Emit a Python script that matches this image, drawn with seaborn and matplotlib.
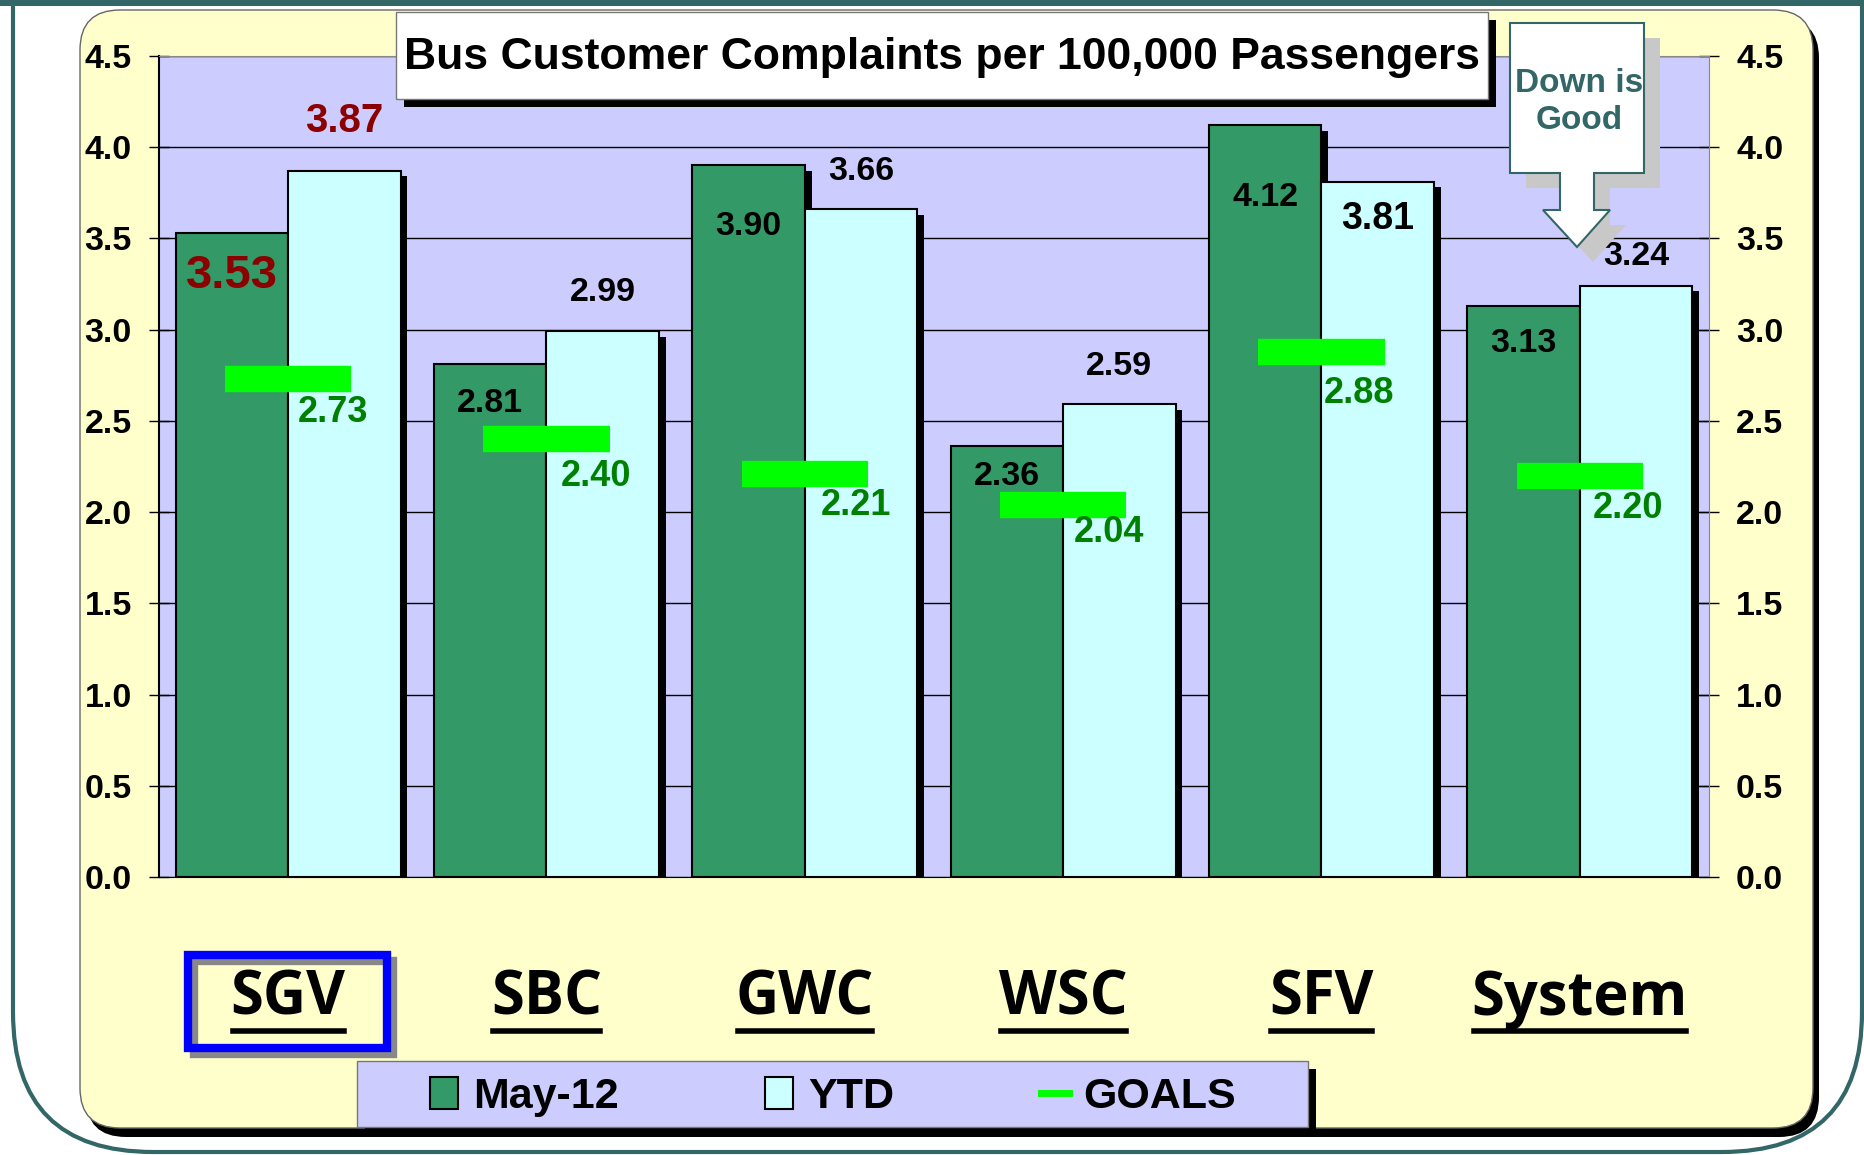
import pandas as pd
import numpy as np
import matplotlib
matplotlib.use("Agg")
import matplotlib.pyplot as plt
import matplotlib.patheffects as pe
import matplotlib.transforms as mtransforms
from matplotlib.patches import FancyBboxPatch, Rectangle, Polygon, Patch
from matplotlib.lines import Line2D
import seaborn as sb

# data
regions = ["SGV", "SBC", "GWC", "WSC", "SFV", "System"]
series = ["May-12", "YTD"]
may_12 = [3.53, 2.81, 3.90, 2.36, 4.12, 3.13]
ytd = [3.87, 2.99, 3.66, 2.59, 3.81, 3.24]
goals = [2.73, 2.40, 2.21, 2.04, 2.88, 2.20]
yticks = [0.0, 0.5, 1.0, 1.5, 2.0, 2.5, 3.0, 3.5, 4.0, 4.5]
title = "Bus Customer Complaints per 100,000 Passengers"

# label styles: (offset pt, size, colour)
may_style = [(-31, 34, "#8B0000"), (-28, 24.5, "black"), (-44, 24.5, "black"),
             (-22, 24.5, "black"), (-52, 24.5, "black"), (-27, 24.5, "black")]
ytd_style = [(36, 29, "#8B0000"), (28, 24.5, "black"), (27, 24.5, "black"),
             (27, 24.5, "black"), (-27, 27, "black"), (21, 24.5, "black")]
goal_offsets = [(32, -24), (36, -27), (37, -23), (33, -20), (27, -30), (35, -24)]

GREEN = "#339966"
CYAN = "#CCFFFF"
LIME = "#00FF00"
LAV = "#CCCCFF"
PANEL = "#FFFFCC"
TEAL = "#336666"

W, H = 1865, 1155
plt.rcParams["font.family"] = ["Liberation Sans", "DejaVu Sans"]

fig = plt.figure(figsize=(W / 100, H / 100), dpi=100)
fig.patch.set_facecolor("white")
# pixel coords measured from the top-left corner
px = mtransforms.Affine2D().scale(1 / W, -1 / H).translate(0, 1) + fig.transFigure

# slide frame
fig.add_artist(FancyBboxPatch((13, -300), 1849, 1452, boxstyle="round,pad=0,rounding_size=140",
                              fc="white", ec=TEAL, lw=3, transform=px, zorder=-3))
fig.add_artist(Rectangle((0, 0), W, 6, fc=TEAL, ec="none", transform=px, zorder=-3))

# yellow panel with black shadow
fig.add_artist(FancyBboxPatch((86, 18), 1733, 1119, boxstyle="round,pad=0,rounding_size=40",
                              fc="black", ec="none", transform=px, zorder=-2))
fig.add_artist(FancyBboxPatch((80, 10), 1733, 1118, boxstyle="round,pad=0,rounding_size=40",
                              fc=PANEL, ec="#666666", lw=1, transform=px, zorder=-1.5))

ax = fig.add_axes([159 / W, 1 - 877 / H, 1550 / W, 821 / H])

df = pd.DataFrame({
    "region": regions * 2,
    "period": [series[0]] * len(regions) + [series[1]] * len(regions),
    "value": may_12 + ytd,
})

sb.barplot(data=df, x="region", y="value", hue="period", palette=[GREEN, CYAN],
           width=0.87, saturation=1, edgecolor="black", linewidth=1.5,
           legend=False, ax=ax, zorder=3)

for cont in ax.containers:
    for bar in cont:
        bar.set_path_effects([pe.SimplePatchShadow(offset=(5, -4), shadow_rgbFace="black", alpha=1),
                              pe.Normal()])

xs = np.arange(len(regions))
ax.hlines(goals, xs - 0.245, xs + 0.245, colors=LIME, lw=19, zorder=5)

half = 0.87 / 4
for i, (v, st) in enumerate(zip(may_12, may_style)):
    ax.annotate(f"{v:.2f}", (i - half, v), xytext=(0, st[0]), textcoords="offset points",
                ha="center", va="center", fontsize=st[1], fontweight="bold", color=st[2], zorder=6)
for i, (v, st) in enumerate(zip(ytd, ytd_style)):
    ax.annotate(f"{v:.2f}", (i + half, v), xytext=(0, st[0]), textcoords="offset points",
                ha="center", va="center", fontsize=st[1], fontweight="bold", color=st[2], zorder=6)
for i, (g, off) in enumerate(zip(goals, goal_offsets)):
    ax.annotate(f"{g:.2f}", (i, g), xytext=off, textcoords="offset points",
                ha="center", va="center", fontsize=26, fontweight="bold", color="#008000", zorder=6)

ax.set_facecolor(LAV)
ax.set_xlim(-0.5, len(regions) - 0.5)
ax.set_ylim(0, 4.5)
ax.set_yticks(yticks)
ax.set_yticklabels([f"{t:.1f}" for t in yticks])
ax.yaxis.grid(True, color="black", lw=1)
ax.set_axisbelow(True)
ax.tick_params(axis="y", direction="inout", length=15, width=1, labelsize=24.5,
               left=True, right=True, labelleft=True, labelright=True, pad=12)
for lbl in ax.get_yticklabels():
    lbl.set_fontweight("bold")
ax.set_xlabel("")
ax.set_ylabel("")
ax.set_xticks(xs)
ax.set_xticklabels(regions)
ax.tick_params(axis="x", length=0, pad=66, labelsize=43)
for lbl in ax.get_xticklabels():
    lbl.set_fontweight("bold")
    lbl.set_family(["Open Sans", "DejaVu Sans"])
ax.spines["left"].set_color("black")
ax.spines["left"].set_linewidth(1.5)
ax.spines["bottom"].set_color("black")
ax.spines["top"].set_color("#888888")
ax.spines["right"].set_color("#888888")

# title box
fig.add_artist(Rectangle((404, 20), 1092, 87, fc="black", ec="none", transform=px, zorder=5))
fig.add_artist(Rectangle((396, 12), 1092, 87, fc="white", ec="#777777", lw=1, transform=px, zorder=5.1))
fig.text(942, 58, title, transform=px, ha="center", va="center", fontsize=32,
         fontweight="bold", zorder=6)

# "Down is Good" callout
arrow = [(1510, 23), (1644, 23), (1644, 173), (1594, 173), (1594, 210), (1610, 210),
         (1577, 247), (1543, 210), (1560, 210), (1560, 173), (1510, 173)]
shadow = [(x + 16, y + 15) for x, y in arrow]
fig.add_artist(Polygon(shadow, closed=True, fc="#C8C8C8", ec="none", transform=px, zorder=5))
fig.add_artist(Polygon(arrow, closed=True, fc="white", ec=TEAL, lw=1.5, transform=px, zorder=5.1))
fig.text(1579, 102, "Down is\nGood", transform=px, ha="center", va="center", fontsize=24,
         fontweight="bold", color=TEAL, linespacing=1.25, zorder=6)

# highlight box around SGV
fig.add_artist(Rectangle((194, 961), 199, 93, fc="none", ec="#888888", lw=6, transform=px, zorder=-1))
fig.add_artist(Rectangle((188, 955), 199, 93, fc="none", ec="#0000FF", lw=6, transform=px, zorder=-0.9))

# legend box and legend
fig.add_artist(Rectangle((365, 1069), 951, 66, fc="black", ec="none", transform=px, zorder=-1))
fig.add_artist(Rectangle((357, 1061), 951, 66, fc=LAV, ec="#777777", lw=1, transform=px, zorder=-0.9))
handles = [Patch(fc=GREEN, ec="black", lw=1.5), Patch(fc=CYAN, ec="black", lw=1.5),
           Line2D([], [], color=LIME, lw=5)]
leg = fig.legend(handles, [series[0], series[1], "GOALS"], loc="center left",
                 bbox_to_anchor=(430 / W, 1 - 1097 / H), ncol=3, frameon=False,
                 prop={"weight": "bold", "size": 31}, handlelength=0.65, handleheight=0.75,
                 handletextpad=0.35, columnspacing=3.4, borderaxespad=0, borderpad=0)

# underline the category labels
fig.canvas.draw()
r = fig.canvas.get_renderer()
for lbl in ax.get_xticklabels():
    bb = lbl.get_window_extent(r)
    fig.add_artist(Line2D([bb.x0 + 2, bb.x1 - 2], [H - 1031, H - 1031], color="black", lw=4,
                          transform=None, zorder=1))

fig.savefig("out.png", dpi=100)
